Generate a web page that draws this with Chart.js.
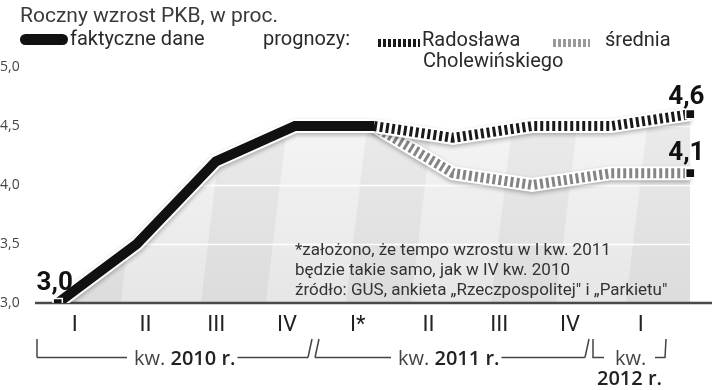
<!DOCTYPE html>
<html>
<head>
<meta charset="utf-8">
<script src="https://cdn.jsdelivr.net/npm/chart.js@4/dist/chart.umd.min.js"></script>
<style>
  html, body { margin: 0; background: #fff; }
  #wrap { width: 720px; height: 390px; }
</style>
</head>
<body>
<div id="wrap"><canvas id="chartPkb"></canvas></div>
<script>
// dane (roczny wzrost PKB, w proc.)
const quarters = ['I', 'II', 'III', 'IV', 'I*', 'II', 'III', 'IV', 'I'];
const actual = [3.0, 3.5, 4.2, 4.5, 4.5, null, null, null, null];
const forecastCholewinski = [null, null, null, null, 4.5, 4.4, 4.5, 4.5, 4.6];
const forecastAverage = [null, null, null, null, 4.5, 4.1, 4.0, 4.1, 4.1];
const yTicks = [3.0, 3.5, 4.0, 4.5, 5.0];
const yearLabels = ['2010 r.', '2011 r.', '2012 r.'];

const NARROW = "'Liberation Sans Narrow', 'Roboto', sans-serif";
const WIDE = "'Open Sans', 'Noto Sans', sans-serif";

const fmt = (v) => v.toFixed(1).replace('.', ',');
const toPoints = (arr) => arr.map((v, i) => ({ x: i, y: v }));
const envelope = actual.map((v, i) => (v !== null ? v : forecastCholewinski[i]));

let fillPattern = null;
function getFill(chart) {
  if (fillPattern) return fillPattern;
  const off = document.createElement('canvas');
  off.width = chart.width;
  off.height = chart.height;
  const c = off.getContext('2d');
  const g = c.createLinearGradient(0, 67, 0, 303);
  g.addColorStop(0, '#f9f9f9');
  g.addColorStop(1, '#e6e6e6');
  c.fillStyle = g;
  c.fillRect(0, 0, off.width, off.height);
  // ukośne pasy w tle
  c.fillStyle = 'rgba(0,0,0,0.04)';
  [[55, 120], [200, 265], [345, 410], [490, 555], [625, 690]].forEach(([a, b]) => {
    c.beginPath();
    c.moveTo(a + 30, 60);
    c.lineTo(b + 30, 60);
    c.lineTo(b, 310);
    c.lineTo(a, 310);
    c.closePath();
    c.fill();
  });
  fillPattern = chart.ctx.createPattern(off, 'no-repeat');
  return fillPattern;
}

const lastOnly = (arr, r) => arr.map((_, i) => (i === arr.length - 1 ? r : 0));
const firstOnly = (arr, r) => arr.map((_, i) => (i === 0 ? r : 0));

const decorPlugin = {
  id: 'decor',
  beforeDatasetDraw(chart, args) {
    const ds = chart.data.datasets[args.index];
    if (ds.halo) {
      const ctx = chart.ctx;
      ctx.save();
      ctx.shadowColor = 'rgba(0,0,0,0.28)';
      ctx.shadowBlur = 4;
      ctx.shadowOffsetY = 2;
    }
  },
  afterDatasetDraw(chart, args) {
    const ds = chart.data.datasets[args.index];
    const ctx = chart.ctx;
    if (ds.halo) ctx.restore();
    if (ds.envelope) {
      const { left, right } = chart.chartArea;
      const y = chart.scales.y;
      ctx.save();
      ctx.strokeStyle = '#ffffff';
      ctx.lineWidth = 1.5;
      yTicks.slice(1, -1).forEach((t) => {
        const py = Math.round(y.getPixelForValue(t)) + 0.5;
        ctx.beginPath();
        ctx.moveTo(left, py);
        ctx.lineTo(right, py);
        ctx.stroke();
      });
      ctx.strokeStyle = '#4a4a4a';
      ctx.lineWidth = 2.5;
      const by = y.getPixelForValue(yTicks[0]);
      ctx.beginPath();
      ctx.moveTo(left, by);
      ctx.lineTo(right, by);
      ctx.stroke();
      ctx.restore();
    }
  },
  afterDraw(chart) {
    const ctx = chart.ctx;
    const xs = chart.scales.x;
    const ys = chart.scales.y;
    ctx.save();
    ctx.textBaseline = 'alphabetic';

    // tytuł
    ctx.fillStyle = '#3a3a3a';
    ctx.font = `21px ${NARROW}`;
    ctx.fillText('Roczny wzrost PKB, w proc.', 20, 22);

    // legenda
    ctx.fillStyle = '#111';
    ctx.beginPath();
    ctx.roundRect(20, 34, 48, 11, 5.5);
    ctx.fill();
    ctx.fillStyle = '#2a2a2a';
    ctx.font = `20px ${NARROW}`;
    ctx.fillText('faktyczne dane', 70, 45);
    ctx.fillText('prognozy:', 263, 45);
    ctx.fillText('Radosława', 422, 46);
    ctx.fillText('Cholewińskiego', 423, 67);
    ctx.fillText('średnia', 605, 46);
    ctx.lineWidth = 8;
    ctx.setLineDash([3, 2]);
    ctx.strokeStyle = '#1a1a1a';
    ctx.beginPath(); ctx.moveTo(378, 43); ctx.lineTo(420, 43); ctx.stroke();
    ctx.strokeStyle = '#9a9a9a';
    ctx.beginPath(); ctx.moveTo(553, 43); ctx.lineTo(590, 43); ctx.stroke();
    ctx.setLineDash([]);

    // przypis
    ctx.fillStyle = '#333';
    ctx.font = `17px ${NARROW}`;
    ctx.fillText('*założono, że tempo wzrostu w I kw. 2011', 295, 255);
    ctx.fillText('będzie takie samo, jak w IV kw. 2010', 295, 275);
    ctx.fillText('źródło: GUS, ankieta „Rzeczpospolitej" i „Parkietu"', 295, 295);

    // etykiety wartości
    ctx.fillStyle = '#111';
    ctx.font = `bold 26px ${NARROW}`;
    ctx.textAlign = 'center';
    ctx.fillText(fmt(actual[0]), xs.getPixelForValue(0) - 3, ys.getPixelForValue(actual[0]) - 13);
    ctx.textAlign = 'left';
    const last = quarters.length - 1;
    ctx.fillText(fmt(forecastCholewinski[last]), xs.getPixelForValue(last) - 22, ys.getPixelForValue(forecastCholewinski[last]) - 10);
    ctx.fillText(fmt(forecastAverage[last]), xs.getPixelForValue(last) - 22, ys.getPixelForValue(forecastAverage[last]) - 13);

    // klamry lat
    const lineY = 357.5;
    const topY = 339;
    ctx.strokeStyle = '#444';
    ctx.lineWidth = 1.5;
    const seg = (pts) => {
      ctx.beginPath();
      ctx.moveTo(pts[0][0], pts[0][1]);
      pts.slice(1).forEach((p) => ctx.lineTo(p[0], p[1]));
      ctx.stroke();
    };
    const drawYear = (x0, x1, start, year) => {
      ctx.font = `20px ${WIDE}`;
      const wKw = ctx.measureText('kw. ').width;
      ctx.font = `600 20px ${WIDE}`;
      const wYr = ctx.measureText(year).width;
      const total = wKw + wYr;
      ctx.fillStyle = '#444';
      ctx.font = `20px ${WIDE}`;
      ctx.fillText('kw. ', start, 365);
      ctx.fillStyle = '#222';
      ctx.font = `600 20px ${WIDE}`;
      ctx.fillText(year, start + wKw, 365);
      seg([[x0, lineY], [start - 7, lineY]]);
      seg([[start + total + 2, lineY], [x1, lineY]]);
    };
    seg([[37, topY], [37, lineY]]);
    drawYear(37, 308, 134, yearLabels[0]);
    seg([[308, lineY], [312, topY]]);
    seg([[315, lineY], [319, topY]]);
    drawYear(315, 585, 398, yearLabels[1]);
    seg([[585, lineY], [589, topY]]);
    seg([[593, topY], [593, lineY], [604, lineY]]);
    ctx.fillStyle = '#444';
    ctx.font = `20px ${WIDE}`;
    ctx.fillText('kw.', 615, 365);
    seg([[655, lineY], [665, lineY], [666, topY]]);
    ctx.fillStyle = '#222';
    ctx.font = `600 20px ${WIDE}`;
    ctx.fillText(yearLabels[2], 597, 385);

    ctx.restore();
  }
};

const lineBase = {
  xAxisID: 'x',
  yAxisID: 'y',
  fill: false,
  tension: 0,
  borderCapStyle: 'butt',
  borderJoinStyle: 'miter',
  pointHoverRadius: 0,
  spanGaps: false
};

new Chart(document.getElementById('chartPkb'), {
  type: 'line',
  data: {
    datasets: [
      {
        ...lineBase,
        envelope: true,
        data: toPoints(envelope),
        fill: 'start',
        backgroundColor: (c) => (c.chart.chartArea ? getFill(c.chart) : '#eee'),
        borderWidth: 0,
        pointRadius: 0,
        order: 10
      },
      {
        ...lineBase,
        halo: true,
        data: toPoints(forecastAverage),
        borderColor: '#ffffff',
        borderWidth: 14,
        pointRadius: 0,
        order: 9
      },
      {
        ...lineBase,
        data: toPoints(forecastAverage),
        borderColor: '#858585',
        borderWidth: 10,
        borderDash: [3, 3],
        pointStyle: 'rect',
        pointRadius: lastOnly(forecastAverage, 6.5),
        pointBackgroundColor: '#111',
        pointBorderColor: '#fff',
        pointBorderWidth: 1.5,
        order: 8
      },
      {
        ...lineBase,
        halo: true,
        data: toPoints(forecastCholewinski),
        borderColor: '#ffffff',
        borderWidth: 14,
        pointRadius: 0,
        order: 7
      },
      {
        ...lineBase,
        data: toPoints(forecastCholewinski),
        borderColor: '#1a1a1a',
        borderWidth: 10,
        borderDash: [3, 3],
        pointStyle: 'rect',
        pointRadius: lastOnly(forecastCholewinski, 6.5),
        pointBackgroundColor: '#111',
        pointBorderColor: '#fff',
        pointBorderWidth: 1.5,
        order: 6
      },
      {
        ...lineBase,
        halo: true,
        data: toPoints(actual),
        borderColor: '#ffffff',
        borderWidth: 14,
        pointRadius: 0,
        order: 5
      },
      {
        ...lineBase,
        data: toPoints(actual),
        borderColor: '#111',
        borderWidth: 10,
        pointStyle: 'rect',
        pointRadius: firstOnly(actual, 6.5),
        pointBackgroundColor: '#111',
        pointBorderColor: '#fff',
        pointBorderWidth: 1.5,
        order: 4
      }
    ]
  },
  options: {
    responsive: true,
    maintainAspectRatio: false,
    animation: false,
    events: [],
    layout: { padding: { top: 67, left: 0, right: 0, bottom: 0 } },
    plugins: {
      legend: { display: false },
      tooltip: { enabled: false }
    },
    scales: {
      x: {
        type: 'linear',
        display: false,
        min: -0.2875,
        max: 8.275
      },
      xq: {
        type: 'linear',
        position: 'bottom',
        min: -0.5615,
        max: 9.006,
        grid: { display: false, drawTicks: false },
        border: { display: false },
        afterBuildTicks: (scale) => {
          scale.ticks = quarters.map((_, i) => ({ value: i }));
        },
        afterFit: (scale) => { scale.height = 87; },
        ticks: {
          autoSkip: false,
          maxRotation: 0,
          padding: 9,
          color: '#222',
          font: { family: NARROW, size: 22 },
          callback: (v) => quarters[v] ?? ''
        }
      },
      y: {
        type: 'linear',
        min: 3,
        max: 5,
        grid: { display: false },
        border: { display: false },
        afterBuildTicks: (scale) => {
          scale.ticks = yTicks.map((v) => ({ value: v }));
        },
        afterFit: (scale) => { scale.width = 35; },
        ticks: {
          crossAlign: 'far',
          padding: 0,
          color: '#444',
          font: { family: WIDE, size: 14 },
          callback: (v) => fmt(v)
        }
      }
    }
  },
  plugins: [decorPlugin]
});
</script>
</body>
</html>
